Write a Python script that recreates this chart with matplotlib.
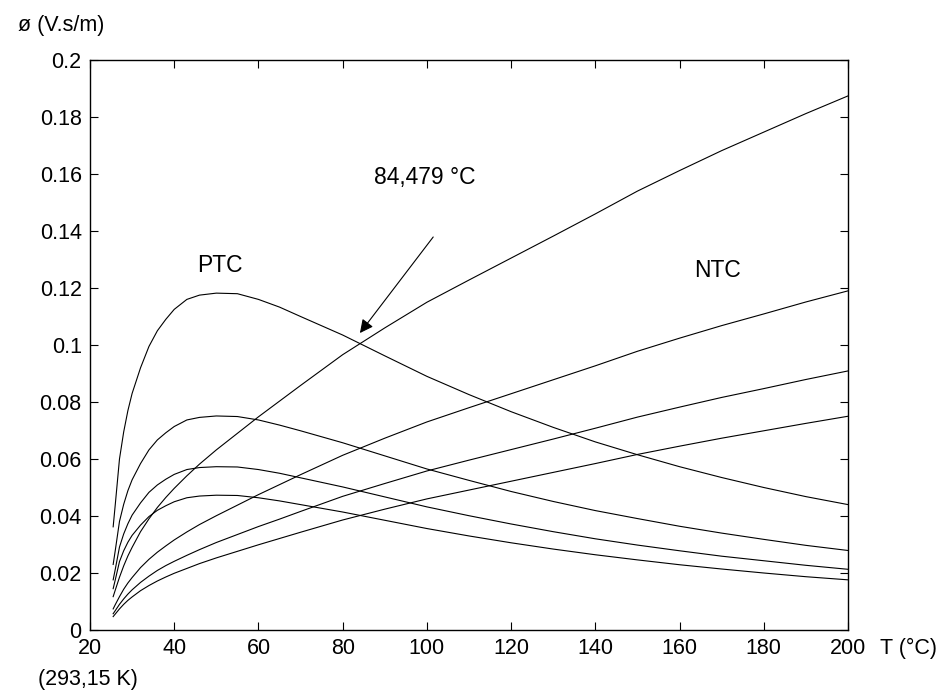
import matplotlib
matplotlib.use("Agg")
import matplotlib.pyplot as plt

plt.rcParams['font.family'] = ['Liberation Sans', 'DejaVu Sans']

# temperature grid (°C)
T = [25.5, 26, 27, 28, 29, 30, 32, 34, 36, 38, 40, 43, 46, 50, 55, 60, 65, 70,
     80, 90, 100, 110, 120, 130, 140, 150, 160, 170, 180, 190, 200]

# PTC curves (rise then fall)
ptc1 = [0.0362, 0.0440, 0.0600, 0.0695, 0.0770, 0.0830, 0.0920, 0.0995, 0.1050, 0.1090,
        0.1125, 0.1160, 0.1175, 0.1182, 0.1180, 0.1160, 0.1133, 0.1100, 0.1035, 0.0962,
        0.0890, 0.0826, 0.0766, 0.0711, 0.0660, 0.0615, 0.0573, 0.0535, 0.0500, 0.0468, 0.0440]
ptc2 = [0.0230, 0.0279, 0.0381, 0.0441, 0.0489, 0.0527, 0.0584, 0.0632, 0.0667, 0.0692,
        0.0714, 0.0737, 0.0746, 0.0751, 0.0749, 0.0737, 0.0719, 0.0699, 0.0657, 0.0611,
        0.0565, 0.0525, 0.0486, 0.0451, 0.0419, 0.0391, 0.0364, 0.0340, 0.0318, 0.0297, 0.0279]
ptc3 = [0.0176, 0.0213, 0.0291, 0.0337, 0.0373, 0.0403, 0.0446, 0.0483, 0.0509, 0.0529,
        0.0546, 0.0563, 0.0570, 0.0573, 0.0572, 0.0563, 0.0550, 0.0534, 0.0502, 0.0467,
        0.0432, 0.0401, 0.0372, 0.0345, 0.0320, 0.0298, 0.0278, 0.0259, 0.0243, 0.0227, 0.0213]
ptc4 = [0.0145, 0.0176, 0.0240, 0.0278, 0.0308, 0.0332, 0.0368, 0.0398, 0.0420, 0.0436,
        0.0450, 0.0464, 0.0470, 0.0473, 0.0472, 0.0464, 0.0453, 0.0440, 0.0414, 0.0385,
        0.0356, 0.0330, 0.0306, 0.0284, 0.0264, 0.0246, 0.0229, 0.0214, 0.0200, 0.0187, 0.0176]

# NTC curves (increasing)
ntc1 = [0.0117, 0.0140, 0.0185, 0.0225, 0.0260, 0.0290, 0.0345, 0.0390, 0.0430, 0.0465,
        0.0497, 0.0541, 0.0582, 0.0632, 0.0690, 0.0748, 0.0803, 0.0858, 0.0966, 0.1060,
        0.1150, 0.1228, 0.1305, 0.1382, 0.1460, 0.1540, 0.1612, 0.1682, 0.1747, 0.1812, 0.1874]
ntc2 = [0.0074, 0.0089, 0.0117, 0.0143, 0.0165, 0.0184, 0.0219, 0.0248, 0.0273, 0.0295,
        0.0316, 0.0344, 0.0370, 0.0401, 0.0438, 0.0475, 0.0510, 0.0545, 0.0613, 0.0673,
        0.0730, 0.0780, 0.0829, 0.0878, 0.0927, 0.0978, 0.1024, 0.1068, 0.1109, 0.1151, 0.1190]
ntc3 = [0.0057, 0.0068, 0.0090, 0.0109, 0.0126, 0.0141, 0.0167, 0.0189, 0.0209, 0.0226,
        0.0241, 0.0262, 0.0282, 0.0307, 0.0335, 0.0363, 0.0389, 0.0416, 0.0469, 0.0514,
        0.0558, 0.0596, 0.0633, 0.0670, 0.0708, 0.0747, 0.0782, 0.0816, 0.0847, 0.0879, 0.0909]
ntc4 = [0.0047, 0.0056, 0.0074, 0.0090, 0.0104, 0.0116, 0.0138, 0.0156, 0.0172, 0.0186,
        0.0199, 0.0216, 0.0233, 0.0253, 0.0276, 0.0299, 0.0321, 0.0343, 0.0386, 0.0424,
        0.0460, 0.0491, 0.0522, 0.0553, 0.0584, 0.0616, 0.0645, 0.0673, 0.0699, 0.0725, 0.0750]

x_ticks = [20, 40, 60, 80, 100, 120, 140, 160, 180, 200]
y_ticks = [0, 0.02, 0.04, 0.06, 0.08, 0.1, 0.12, 0.14, 0.16, 0.18, 0.2]
y_labels = ['0', '0.02', '0.04', '0.06', '0.08', '0.1', '0.12', '0.14', '0.16', '0.18', '0.2']

fs = 15.5
fs_note = 16.5

fig = plt.figure(figsize=(9.4, 6.9), dpi=100)
ax = fig.add_axes([90/940, 60/690, 758/940, 570/690])

for s in [ptc1, ptc2, ptc3, ptc4, ntc1, ntc2, ntc3, ntc4]:
    ax.plot(T, s, color='black', linewidth=0.8)

ax.set_xlim(20, 200)
ax.set_ylim(0, 0.2)
ax.set_xticks(x_ticks)
ax.set_xticklabels([str(t) for t in x_ticks])
ax.set_yticks(y_ticks)
ax.set_yticklabels(y_labels)
ax.tick_params(direction='in', length=6, width=0.8, labelsize=fs, pad=6,
               top=True, right=True)
for sp in ax.spines.values():
    sp.set_linewidth(1.0)

ax.text(50.9, 0.128, 'PTC', fontsize=fs_note, ha='center', va='center')
ax.text(168.9, 0.1263, 'NTC', fontsize=fs_note, ha='center', va='center')
ax.text(99.6, 0.1586, '84,479 °C', fontsize=fs_note, ha='center', va='center')
ax.annotate('', xy=(84.1, 0.1042), xytext=(101.5, 0.1379),
            arrowprops=dict(arrowstyle='-|>', color='black', lw=0.8,
                            mutation_scale=20, shrinkA=0, shrinkB=0))

fig.text(18/940, 1 - 25/690, 'ø (V.s/m)', fontsize=fs, ha='left', va='center')
fig.text(880/940, 1 - 648/690, 'T (°C)', fontsize=fs, ha='left', va='center')
fig.text(38/940, 1 - 680/690, '(293,15 K)', fontsize=fs, ha='left', va='center')

fig.savefig('out.png', dpi=100)
